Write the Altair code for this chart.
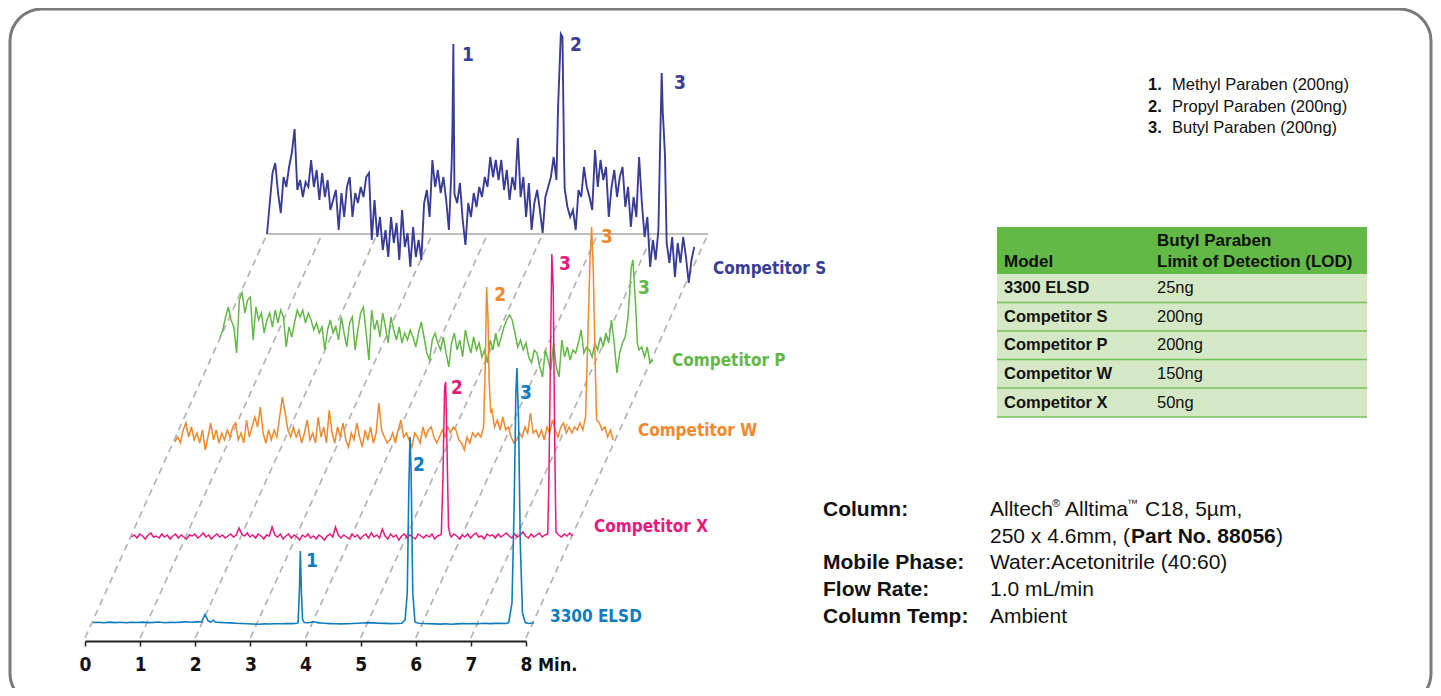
import altair as alt
import pandas as pd

# ---------------- data ----------------
TRACES = ["Competitor S", "Competitor P", "Competitor W", "Competitor X", "3300 ELSD"]

# sampled signal values (px-like detector units above each trace's baseline)
S_STEP = 0.05
S_VALUES = [0, 31, 61, 71, 41, 21, 57, 47, 67, 81,
            105, 44, 54, 37, 52, 47, 74, 47, 64, 34,
            61, 37, 54, 24, 34, 44, 4, 41, 17, 47,
            57, 17, 41, 31, 47, 37, 57, 61, -6, 34,
            -3, 17, -16, 4, -23, 17, -9, 11, -26, 24,
            -13, 1, -33, 7, -23, -6, -26, 31, 44, 17,
            74, 47, 64, 41, 57, 34, 4, 71, 40, 31,
            51, 14, -11, 31, 17, 41, 27, 47, 37, 57,
            47, 77, 57, 74, 54, 74, 44, 64, 34, 57,
            44, 96, 37, 57, 17, 51, 4, 31, 44, 24,
            1, 37, 47, 57, 77, 54, 0, 0, 45, 27,
            17, 24, 4, 44, 37, 67, 47, 37, 24, 84,
            47, 74, 54, 67, 17, 47, 64, 37, 57, 67,
            27, 47, 7, 37, 17, 77, 31, -3, 17, -33,
            -6, -26, 4, 0, 0, 0, -29, -3, -43, -9,
            -29, -3, -23, -49, -26, -13]
S_PEAK_T = [[3.365, 3.38, 3.395], [5.28, 5.31, 5.33, 5.36, 5.39],
            [7.13, 7.16, 7.18, 7.20, 7.22, 7.25]]
S_PEAK_V = [[110, 190, 80], [127, 171, 200, 197, 71], [87, 161, 121, 101, 77, -9]]

P_STEP = 0.05
P_VALUES = [2, 9, 22, 32, 19, 12, -14, 39, 46, 26,
            39, 42, -1, 32, 19, 26, 6, 19, 26, 12,
            29, 16, 29, 22, -8, 12, 2, 16, 29, 22,
            29, 16, 26, 19, 9, 16, 6, 12, -11, 9,
            19, 6, 12, -1, 22, 6, -8, 16, 22, -11,
            9, 26, 32, 6, -21, 29, 9, 19, 2, 26,
            12, -4, 22, 9, -1, 12, -4, 6, -1, 9,
            2, -8, 6, 17, 2, -14, -21, -1, 6, -4,
            -11, 2, -14, -28, -4, 6, -11, -1, -18, 9,
            -4, -14, 2, -11, -4, -18, -11, -24, -1, -11,
            6, -8, 2, 12, 19, 24, 19, 6, -8, -1,
            -11, -4, -18, -24, -11, -14, -28, -38, -11, -21,
            -31, -4, -28, -38, -1, -18, -8, -21, -11, -14,
            -4, 9, -14, -8, -11, -18, -4, -11, 2, -8,
            6, -4, 19, -4, -34, -14, -4, 2, 22, 0,
            0, 0, -11, -8, -18, -8, -24, -21]
P_PEAK_T = [[7.43, 7.46, 7.49, 7.51, 7.54, 7.57]]
P_PEAK_V = [[46, 72, 79, 59, 32, -4]]

W_STEP = 0.05
W_VALUES = [-2, 3, -3, 10, 17, 3, 13, 0, 7, -3,
            10, -10, 3, 17, 0, 10, -3, 7, 0, 10,
            3, 13, 17, 0, 7, -3, 20, 3, 13, 23,
            13, 33, 7, -3, 10, 0, 10, 3, 23, 43,
            27, 10, 3, 13, 3, 10, -3, 7, 20, 0,
            7, -3, 23, 3, 13, -3, 30, 7, -3, 13,
            3, 17, 0, -7, 7, 0, 17, 3, -7, 10,
            0, 13, -3, 7, 37, 10, 3, -3, 0, 7,
            -3, 10, 20, 3, 7, 0, -7, 7, 3, -3,
            13, 3, 10, 13, 3, -3, 3, 10, 3, 13,
            7, 13, 10, 0, -3, -10, 3, -3, 7, 3,
            7, 3, 0, 0, 0, 30, 13, 20, 10, 23,
            10, 13, 3, -3, 0, 7, 3, 13, 7, 27,
            7, 10, 3, 10, 0, 13, 7, 20, 10, 3,
            13, 17, 7, 13, 7, 13, 10, 17, 10, 0,
            0, 0, 0, 0, 17, 10, 13, 3, 10, 0]
W_PEAK_T = [[5.60, 5.63, 5.655, 5.68, 5.70, 5.73],
            [7.45, 7.50, 7.53, 7.56, 7.59, 7.62, 7.65]]
W_PEAK_V = [[13, 73, 153, 123, 60, 27], [23, 120, 180, 213, 170, 87, 20]]

X_STEP = 0.05
X_VALUES = [0, 2, -1, 3, 1, -2, 2, 4, 0, 1,
            -1, 3, 0, 2, -2, 1, 3, -1, 2, 0,
            -2, 2, 1, 3, -1, 1, 4, 0, 2, -2,
            1, 3, 0, 2, -1, 1, 3, 0, 2, 9,
            3, 1, 4, 0, 2, -1, 3, 1, -2, 2,
            1, 10, 2, 0, 3, -2, 1, 3, -1, 2,
            0, -3, 2, 0, 3, -1, 1, -2, 2, 0,
            -3, 1, 3, 0, 10, 2, -1, 2, 0, -2,
            3, 0, 2, -2, 1, 3, -1, 4, 0, 2,
            -1, 8, 1, -2, 3, 0, 2, -3, 1, 3,
            -1, 2, 0, -2, 3, 1, -1, 2, 0, 3,
            -2, 1, 2, 0, 0, 0, 0, 3, 1, -2,
            2, 0, 3, -1, 2, 4, 0, 1, -2, 3,
            1, 2, -1, 3, 0, 2, 4, 1, -1, 3,
            0, 2, 5, 1, -1, 3, 0, 2, 4, 0,
            2, 0, 0, 0, 0, 2, 0, 3, 1, 4,
            1]
X_PEAK_T = [[5.62, 5.65, 5.68, 5.70, 5.72, 5.75, 5.78],
            [7.55, 7.57, 7.60, 7.625, 7.65, 7.68, 7.70]]
X_PEAK_V = [[3, 60, 150, 155, 100, 10, 2], [3, 50, 180, 283, 250, 80, 5]]

E_STEP = 0.1
E_VALUES = [0.5, 0.8, 0.3, 0.9, 0.4, 0.7, 0.2, 0.8, 0.5, 0.9,
            0.4, 0.6, 1.0, 0.3, 0.7, 0.5, 0.9, 1.2, 0.8, 1.4,
            0, 0, 1.0, 0.6, 0.3, 0.1, -0.3, -0.5, -0.8, -1.0,
            -1.2, -0.9, -1.0, -0.7, -0.8, -0.5, -0.6, -0.2, 0, 0.3,
            1.2, 0.1, -0.3, -0.6, -0.8, -0.9, -0.7, -0.5, -0.3, 0.0,
            0.4, 0.1, -0.2, -0.4, -0.6, -0.5, -0.3, 0, 0, -0.2,
            -0.5, -0.7, -0.9, -1.1, -0.8, -1.2, -0.9, -0.6, -0.8, -0.5,
            -0.7, -0.3, -0.6, -0.4, -0.2, -0.5, 0, 0, 0, -0.5,
            0.2]
E_PEAK_T = [[1.97, 2.03, 2.09, 2.14, 2.18, 2.22],
            [3.72, 3.745, 3.76, 3.78, 3.80, 3.83],
            [5.66, 5.70, 5.73, 5.75, 5.77, 5.80, 5.84],
            [7.54, 7.60, 7.64, 7.67, 7.69, 7.72, 7.75, 7.79, 7.84]]
E_PEAK_V = [[1, 8.5, 2, 1, 3, 1], [0.3, 35, 72, 30, 4, 0.5],
            [3, 30, 140, 186, 150, 30, 1],
            [0.5, 20, 120, 230, 255, 200, 80, 10, 0.5]]

PEAK_LABEL_TRACE = ["Competitor S"] * 3 + ["Competitor P"] + ["Competitor W"] * 2 + \
                   ["Competitor X"] * 2 + ["3300 ELSD"] * 3
PEAK_LABEL_TEXT = ["1", "2", "3", "3", "2", "3", "2", "3", "1", "2", "3"]
PEAK_LABEL_T = [3.646, 5.605, 7.49, 7.69, 5.90, 7.84, 5.905, 7.864, 3.973, 5.914, 7.855]
PEAK_LABEL_V = [179, 189, 151, 51, 145, 203, 149, 273, 62, 158, 230]

NAME_LABEL_T = [8.09, 8.20, 8.40, 8.39, 8.29]
NAME_LABEL_V = [-35, -22, 9, 10, 6]

X_TICKS = [0, 1, 2, 3, 4, 5, 6, 7, 8]

LEGEND_NUM = ["1.", "2.", "3."]
LEGEND_TEXT = ["Methyl Paraben (200ng)", "Propyl Paraben (200ng)", "Butyl Paraben (200ng)"]

TABLE_MODEL = ["3300 ELSD", "Competitor S", "Competitor P", "Competitor W", "Competitor X"]
TABLE_LOD = ["25ng", "200ng", "200ng", "150ng", "50ng"]

COND_LABELS = ["Column:", "Mobile Phase:", "Flow Rate:", "Column Temp:"]
COND_VALUES = ["Water:Acetonitrile (40:60)", "1.0 mL/min", "Ambient"]

# ---------------- layout / style ----------------
M = 8  # page margin
COLORS = {"Competitor S": "#3a3d98", "Competitor P": "#63b847", "Competitor W": "#f0882e",
          "Competitor X": "#e7197b", "3300 ELSD": "#0f7cc0"}
WIDTHS = {"Competitor S": 1.9, "Competitor P": 1.5, "Competitor W": 1.5,
          "Competitor X": 1.5, "3300 ELSD": 1.6}
DEPTH = {"Competitor S": 407, "Competitor P": 302, "Competitor W": 201,
         "Competitor X": 104, "3300 ELSD": 18}
PX_PER_MIN = 55.125
SHEAR = 0.4472 / PX_PER_MIN
NARROW = "Liberation Sans Narrow, DejaVu Sans Condensed, Arial Narrow, sans-serif"
SANS = "Liberation Sans, Arial, Helvetica, sans-serif"

XS = alt.Scale(domain=[0, 8], range=[85 - M, 526 - M])
YS = alt.Scale(domain=[0, 400], range=[641 - M, 241 - M])
XAXIS = alt.Axis(values=X_TICKS, format="d", title=None, grid=False, labelFont=NARROW,
                 labelFontSize=19, labelFontWeight="bold", labelColor="#111",
                 labelPadding=9, tickSize=5, tickWidth=1.5, tickColor="#222",
                 domainColor="#222", domainWidth=2, labelFlush=False, zindex=2)


def X(field):
    return alt.X(field, type="quantitative", scale=XS, axis=XAXIS)


def Y(field):
    return alt.Y(field, type="quantitative", scale=YS, axis=None)


def build_trace(name, step, values, peaks_t, peaks_v):
    pts = [(round(i * step, 4), v) for i, v in enumerate(values)]
    for pt, pv in zip(peaks_t, peaks_v):
        lo, hi = min(pt), max(pt)
        pts = [p for p in pts if not (lo - 1e-9 <= p[0] <= hi + 1e-9)]
        pts += list(zip(pt, pv))
    pts.sort()
    d = DEPTH[name]
    return pd.DataFrame({"x": [t + d * SHEAR for t, _ in pts],
                         "y": [d + v for _, v in pts],
                         "t": [t for t, _ in pts]})


trace_data = {
    "Competitor S": build_trace("Competitor S", S_STEP, S_VALUES, S_PEAK_T, S_PEAK_V),
    "Competitor P": build_trace("Competitor P", P_STEP, P_VALUES, P_PEAK_T, P_PEAK_V),
    "Competitor W": build_trace("Competitor W", W_STEP, W_VALUES, W_PEAK_T, W_PEAK_V),
    "Competitor X": build_trace("Competitor X", X_STEP, X_VALUES, X_PEAK_T, X_PEAK_V),
    "3300 ELSD": build_trace("3300 ELSD", E_STEP, E_VALUES, E_PEAK_T, E_PEAK_V),
}

DUMMY = pd.DataFrame({"k": [0]})
color_scale = alt.Scale(domain=TRACES, range=[COLORS[t] for t in TRACES])


def txt(x, y, s, size, weight="normal", color="#111", font=SANS, align="left"):
    return alt.Chart(DUMMY).mark_text(text=s, fontSize=size, fontWeight=weight, color=color,
                                      font=font, align=align, baseline="middle").encode(
        x=alt.value(x - M), y=alt.value(y - M))


def box(x1, x2, y1, y2, color):
    return alt.Chart(DUMMY).mark_rect(color=color).encode(
        x=alt.value(x1 - M), x2=alt.value(x2 - M), y=alt.value(y1 - M), y2=alt.value(y2 - M))


def hline(x1, x2, y, color, w):
    return alt.Chart(DUMMY).mark_rule(color=color, strokeWidth=w).encode(
        x=alt.value(x1 - M), x2=alt.value(x2 - M), y=alt.value(y - M))


layers = []

# outer rounded frame
layers.append(alt.Chart(DUMMY).mark_rect(fillOpacity=0, stroke="#7a7a7a", strokeWidth=3,
                                         cornerRadius=32).encode(
    x=alt.value(10 - M), x2=alt.value(1431 - M), y=alt.value(9 - M), y2=alt.value(705 - M)))

# dashed perspective guides
top = DEPTH["Competitor S"]
guides = pd.DataFrame({"x": X_TICKS, "x2": [t + top * SHEAR for t in X_TICKS],
                       "y": [3] * len(X_TICKS), "y2": [top] * len(X_TICKS)})
layers.append(alt.Chart(guides).mark_rule(color="#b4b4b4", strokeWidth=1.7,
                                          strokeDash=[7, 5]).encode(
    x=X("x"), x2="x2:Q", y=Y("y"), y2="y2:Q"))

# grey baseline of the back trace
back = pd.DataFrame({"x": [top * SHEAR], "x2": [8 + top * SHEAR], "y": [top]})
layers.append(alt.Chart(back).mark_rule(color="#bdbdbd", strokeWidth=2.2).encode(
    x=X("x"), x2="x2:Q", y=Y("y")))

# chromatogram traces, back to front
for name in TRACES:
    layers.append(alt.Chart(trace_data[name]).mark_line(
        color=COLORS[name], strokeWidth=WIDTHS[name]).encode(
        x=X("x"), y=Y("y"), order="t:Q"))

# peak numbers
pl = pd.DataFrame({
    "trace": PEAK_LABEL_TRACE, "text": PEAK_LABEL_TEXT,
    "x": [t + DEPTH[n] * SHEAR for t, n in zip(PEAK_LABEL_T, PEAK_LABEL_TRACE)],
    "y": [v + DEPTH[n] for v, n in zip(PEAK_LABEL_V, PEAK_LABEL_TRACE)]})
layers.append(alt.Chart(pl).mark_text(font=NARROW, fontSize=19, fontWeight="bold",
                                      align="center", baseline="middle").encode(
    x=X("x"), y=Y("y"), text="text:N",
    color=alt.Color("trace:N", scale=color_scale, legend=None)))

# trace names
nl = pd.DataFrame({
    "trace": TRACES,
    "x": [t + DEPTH[n] * SHEAR for t, n in zip(NAME_LABEL_T, TRACES)],
    "y": [v + DEPTH[n] for v, n in zip(NAME_LABEL_V, TRACES)]})
layers.append(alt.Chart(nl).mark_text(font=NARROW, fontSize=17, fontWeight="bold",
                                      align="left", baseline="middle").encode(
    x=X("x"), y=Y("y"), text="trace:N",
    color=alt.Color("trace:N", scale=color_scale, legend=None)))

# axis unit
layers.append(txt(538, 666, "Min.", 18, "bold", "#111", NARROW))

# compound legend
for i, (n, s) in enumerate(zip(LEGEND_NUM, LEGEND_TEXT)):
    yy = 85 + 21.5 * i
    layers.append(txt(1148, yy, n, 16.5, "bold"))
    layers.append(txt(1172, yy, s, 16.5))

# LOD table
layers.append(box(997, 1367, 227, 274, "#62b946"))
layers.append(box(997, 1367, 274, 417, "#d5e8c6"))
ROW_Y = [274, 302.5, 331, 359.5, 388, 417]
for yy in ROW_Y[1:]:
    layers.append(hline(997, 1367, yy, "#74c05a", 1.6))
layers.append(txt(1004, 262, "Model", 17, "bold"))
layers.append(txt(1157, 241, "Butyl Paraben", 17, "bold"))
layers.append(txt(1157, 262, "Limit of Detection (LOD)", 17, "bold"))
for i, (m, v) in enumerate(zip(TABLE_MODEL, TABLE_LOD)):
    yy = (ROW_Y[i] + ROW_Y[i + 1]) / 2
    layers.append(txt(1004, yy, m, 16.5, "bold"))
    layers.append(txt(1157, yy, v, 16.5))

# conditions block
FS = 21
layers.append(txt(823, 510, COND_LABELS[0], FS, "bold"))
layers.append(txt(823, 563, COND_LABELS[1], FS, "bold"))
layers.append(txt(823, 590, COND_LABELS[2], FS, "bold"))
layers.append(txt(823, 617, COND_LABELS[3], FS, "bold"))
layers.append(txt(990, 510, "Alltech", FS))
layers.append(txt(1052, 504, "\u00ae", 11))
layers.append(txt(1065, 510, "Alltima", FS))
layers.append(txt(1127, 504, "\u2122", 11))
layers.append(txt(1145, 510, "C18, 5\u00b5m,", FS))
layers.append(txt(990, 537, "250 x 4.6mm, (", FS))
layers.append(txt(1131, 537, "Part No. 88056", FS, "bold"))
layers.append(txt(1276, 537, ")", FS))
layers.append(txt(990, 563, COND_VALUES[0], FS))
layers.append(txt(990, 590, COND_VALUES[1], FS))
layers.append(txt(990, 617, COND_VALUES[2], FS))

chart = alt.layer(*layers).properties(
    width=1425, height=641 - M,
    padding={"left": 0, "right": 0, "top": 0, "bottom": 47},
    autosize=alt.AutoSizeParams(type="none"),
).configure_view(strokeWidth=0)

chart.save("out.html", embed_options={"renderer": "svg", "actions": False})
